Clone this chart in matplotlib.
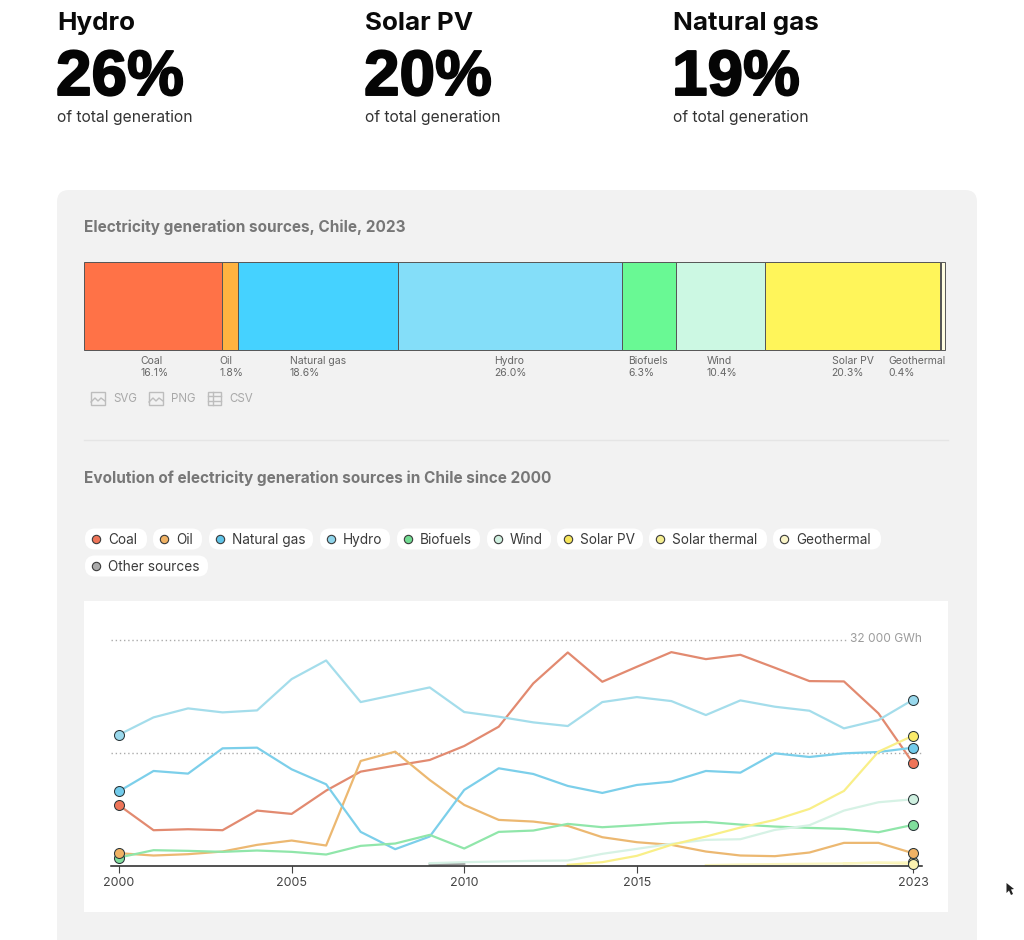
import matplotlib
matplotlib.use("Agg")
import matplotlib.pyplot as plt
import matplotlib.patheffects as pe
from matplotlib.patches import FancyBboxPatch, Rectangle, Polygon
import numpy as np

nan = float("nan")

# headline figures
headline_names = ["Hydro", "Solar PV", "Natural gas"]
headline_values = ["26%", "20%", "19%"]
headline_x = [57, 365, 673]

# stacked bar, 2023
bar_names = ["Coal", "Oil", "Natural gas", "Hydro", "Biofuels", "Wind", "Solar PV", "", "Geothermal"]
bar_shares = [16.1, 1.8, 18.6, 26.0, 6.3, 10.4, 20.3, 0.1, 0.4]
bar_colors = ["#FF7247", "#FFB340", "#45D2FF", "#84DEF9", "#69F994", "#CCF8E3", "#FFF55A", "#FFF9A0", "#FFFDE0"]
bar_label_x = [140.5, 219.5, 289.5, 494.5, 628.5, 706.5, 831.5, 0, 888.5]

# evolution, GWh
years = list(range(2000, 2024))
coal = [8531, 4996, 5137, 4996, 7776, 7305, 10604, 13291, 14139, 14940, 16920, 19653,
        25780, 30163, 26016, 28137, 30210, 29221, 29833, 27995, 26110, 26063, 21538, 14516]
oil = [1744, 1414, 1602, 1979, 2922, 3535, 2828, 14799, 16118, 12112, 8578, 6457,
       6221, 5608, 4006, 3299, 2922, 1979, 1414, 1320, 1838, 3205, 3205, 1744]
natural_gas = [10510, 13385, 13008, 16590, 16684, 13621, 11500, 4760, 2309, 4100, 10699, 13762,
               12961, 11264, 10274, 11405, 11877, 13385, 13149, 15883, 15364, 15883, 16071, 16684]
hydro = [18522, 20973, 22245, 21680, 21963, 26393, 29032, 23141, 24178, 25215, 21727, 21067,
         20266, 19747, 23141, 23848, 23282, 21303, 23376, 22481, 21915, 19418, 20596, 23471]
biofuels = [1131, 2168, 2074, 1932, 2121, 1932, 1555, 2781, 3111, 4336, 2404, 4760,
            4949, 5891, 5420, 5703, 6033, 6174, 5797, 5514, 5326, 5184, 4713, 5750]
wind = [nan, nan, nan, nan, nan, nan, nan, nan, nan, 330, 470, 565,
        660, 707, 1650, 2357, 3064, 3629, 3723, 5043, 5703, 7776, 8955, 9379]
solar_pv = [nan, nan, nan, nan, nan, nan, nan, nan, nan, nan, nan, nan,
            nan, 94, 471, 1367, 2922, 4100, 5373, 6457, 8012, 10557, 16118, 18381]
solar_thermal = [nan, nan, nan, nan, nan, nan, nan, nan, nan, nan, nan, nan,
                 nan, nan, nan, nan, nan, nan, nan, nan, nan, 300, 400, 250]
geothermal = [nan, nan, nan, nan, nan, nan, nan, nan, nan, nan, nan, nan,
              nan, nan, nan, nan, nan, 60, 150, 200, 250, 300, 400, 450]
other_sources = [nan, nan, nan, nan, nan, nan, nan, nan, nan, 150, 250, nan,
                 nan, nan, nan, nan, nan, nan, nan, nan, nan, nan, nan, nan]

series = [
    (other_sources, "#999999", "#999999"),
    (coal, "#E28A70", "#EE7458"),
    (oil, "#ECB871", "#F0B264"),
    (natural_gas, "#7CCFEA", "#72CBEB"),
    (hydro, "#A4DDEB", "#99D8EC"),
    (biofuels, "#90E6AA", "#80DE9C"),
    (wind, "#D6F2E5", "#CFF0E0"),
    (solar_pv, "#F9EF88", "#FAEB6A"),
    (solar_thermal, "#FBF3A8", "#FBF3B0"),
    (geothermal, "#FBF6C0", "#E8E2A0"),
]

# legend pills: name, dot colour, left, right, row
legend_names = ["Coal", "Oil", "Natural gas", "Hydro", "Biofuels", "Wind", "Solar PV",
                "Solar thermal", "Geothermal", "Other sources"]
legend_colors = ["#EE7458", "#F0B264", "#60C4E8", "#8FD4EA", "#72DC92", "#CFF0E0", "#F7E65A",
                 "#F5EE90", "#FAF5C8", "#AAAAAA"]
legend_left = [85, 153, 209, 320, 397, 487, 557, 649, 773, 85]
legend_right = [147, 202, 313, 390, 480, 551, 643, 767, 881, 208]
legend_row = [539, 539, 539, 539, 539, 539, 539, 539, 539, 566]

FONT = "Inter"
W, H = 1024, 940

fig = plt.figure(figsize=(W / 100, H / 100), dpi=100, facecolor="white")


def px_axes(left, top, right, bottom, **kw):
    return fig.add_axes([left / W, 1 - bottom / H, (right - left) / W, (bottom - top) / H], **kw)


# page layer in pixel coordinates
page = fig.add_axes([0, 0, 1, 1], zorder=0)
page.set_xlim(0, W)
page.set_ylim(H, 0)
page.axis("off")


def label(x, y, s, size, color="#111111", weight="normal", family=FONT, **kw):
    return page.text(x, y, s, fontsize=size, color=color, fontweight=weight,
                     family=family, va="baseline", **kw)


for name, value, x in zip(headline_names, headline_values, headline_x):
    label(x, 30, name, 18.7, weight="bold", color="#0a0a0a")
    big = label(x - 1, 95, value, 46, weight="bold", color="#050505", family="Liberation Sans")
    big.set_path_effects([pe.withStroke(linewidth=1.4, foreground="#050505")])
    label(x, 122, "of total generation", 11.3, color="#333333")

page.add_patch(FancyBboxPatch((69, 202), 896, 800, boxstyle="round,pad=12,rounding_size=12",
                              fc="#F2F2F2", ec="none"))

label(84, 232, "Electricity generation sources, Chile, 2023", 11.05, color="#777777", weight="bold")
label(84, 483, "Evolution of electricity generation sources in Chile since 2000", 11.05,
      color="#777777", weight="bold")
page.plot([84, 948], [440, 440], color="#E5E5E5", lw=1)

# stacked bar
ax_bar = px_axes(83.5, 262, 944.5, 350, zorder=1)
left = 0
for share, color in zip(bar_shares, bar_colors):
    ax_bar.barh(0, share, left=left, height=1, color=color, edgecolor="#555555", linewidth=0.7, clip_on=False)
    left += share
ax_bar.set_xlim(0, 100)
ax_bar.set_ylim(-0.5, 0.5)
ax_bar.axis("off")

for name, share, x in zip(bar_names, bar_shares, bar_label_x):
    if name:
        label(x, 364, name, 7.5, color="#666666")
        label(x, 376.5, f"{share:.1f}%", 7.5, color="#666666")

# download links
for x0, x1, text_x, text, table in [(91, 105, 113, "SVG", False), (149, 163, 171, "PNG", False),
                                    (208, 221, 229, "CSV", True)]:
    page.add_patch(Rectangle((x0, 392), x1 - x0, 13, fc="none", ec="#BDBDBD", lw=1))
    if table:
        for f in (1 / 3, 2 / 3):
            page.plot([x0, x1], [392 + 13 * f] * 2, color="#BDBDBD", lw=1)
        page.plot([x0 + 5] * 2, [392, 405], color="#BDBDBD", lw=1)
    else:
        page.plot([x0, x0 + 4, x0 + 7, x0 + 10, x1], [402, 398, 401, 398, 401], color="#BDBDBD", lw=1)
    label(text_x, 402, text, 8.3, color="#A8A8A8")

# legend
for name, color, l, r, y in zip(legend_names, legend_colors, legend_left, legend_right, legend_row):
    page.add_patch(FancyBboxPatch((l + 10, y - 0.5), r - l - 20, 1, boxstyle="round,pad=10,rounding_size=10",
                                  fc="white", ec="none"))
    page.plot(l + 11, y, "o", ms=6, mfc=color, mec="#3a3a3a", mew=0.8)
    label(l + 23, y + 5, name, 9.8, color="#3a3a3a")

# white card behind the line chart
page.add_patch(Rectangle((84, 601), 864, 311, fc="white", ec="none"))

# line chart
ax = px_axes(119, 639.5, 913, 865.5, zorder=2)
ax.patch.set_alpha(0)
ax.set_xlim(2000, 2023)
ax.set_ylim(0, 32000)
for spine in ["top", "left", "right"]:
    ax.spines[spine].set_visible(False)
ax.spines["bottom"].set_bounds(1999.77, 2023.26)
ax.spines["bottom"].set_color("#222222")
ax.spines["bottom"].set_linewidth(1.1)
ax.set_yticks([])
ax.set_xticks([2000, 2005, 2010, 2015, 2023])
ax.tick_params(axis="x", length=5, width=0.8, color="#444444", pad=3, labelsize=9, labelcolor="#444444")
for tick in ax.get_xticklabels():
    tick.set_family(FONT)

ax.hlines(32000, 1999.77, 2021.05, color="#ABABAB", lw=1, linestyle=(0, (1, 2)), clip_on=False, zorder=1)
ax.hlines(16000, 1999.77, 2023.26, color="#ABABAB", lw=1, linestyle=(0, (1, 2)), clip_on=False, zorder=1)
ax.text(2023.26, 32000, "32 000 GWh", fontsize=8.6, color="#9C9C9C", family=FONT, ha="right", va="center")

for values, line_color, dot_color in series:
    ax.plot(years, values, color=line_color, lw=1.6, clip_on=False, zorder=2)
# end dots: first legend entries sit on top
for values, line_color, dot_color in reversed(series):
    for i in (0, -1):
        if not np.isnan(values[i]):
            ax.plot(years[i], values[i], "o", ms=7.2, mfc=dot_color, mec="#2a3639", mew=0.75,
                    clip_on=False, zorder=4)

# mouse pointer left in the screenshot
page.add_patch(Polygon([(1006.5, 883), (1006.5, 893), (1009, 890.5), (1011, 895), (1013, 894),
                        (1011, 889.5), (1014, 889)], fc="#222222", ec="none"))

fig.savefig("out.png", dpi=100)
